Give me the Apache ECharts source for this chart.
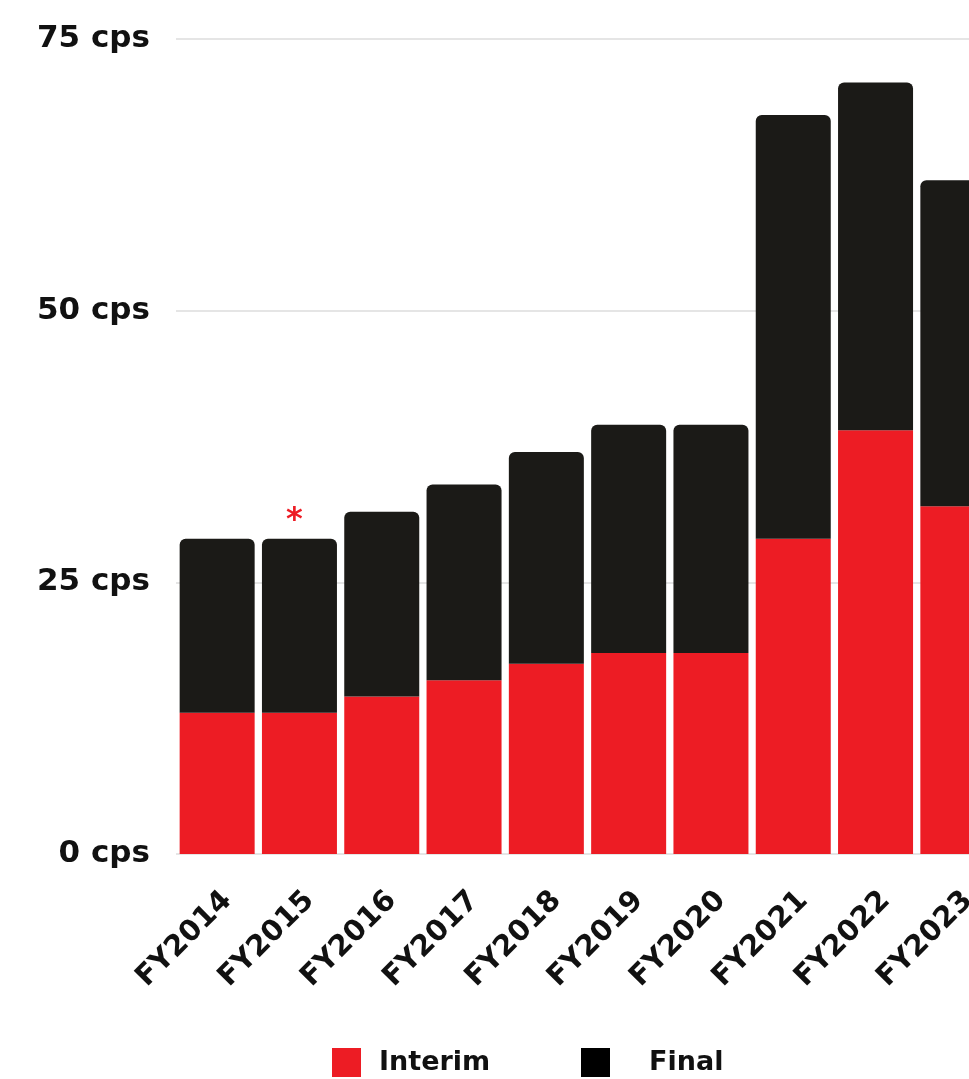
<!DOCTYPE html>
<html>
<head>
<meta charset="utf-8">
<script src="https://cdn.jsdelivr.net/npm/echarts@6/dist/echarts.min.js"></script>
<style>
  html, body { margin: 0; padding: 0; background: #fff; }
  #chart { width: 969px; height: 1079px; }
</style>
</head>
<body>
<div id="chart"></div>
<script>
// 每年股息（cps）
const years = ['FY2014', 'FY2015', 'FY2016', 'FY2017', 'FY2018', 'FY2019', 'FY2020', 'FY2021', 'FY2022', 'FY2023']
const interim = [13, 13, 14.5, 16, 17.5, 18.5, 18.5, 29, 39, 32]
const final = [16, 16, 17, 18, 19.5, 21, 21, 39, 32, 30]
const notes = ['', '*', '', '', '', '', '', '', '', '']
const yTicks = [0, 25, 50, 75]

const RED = '#ED1C24'
const BLACK = '#1B1A17'
const FONT = 'DejaVu Sans'

const finalData = final.map((v, i) => {
  if (!notes[i]) return v
  return {
    value: v,
    label: {
      show: true,
      position: 'top',
      distance: 2,
      offset: [-5, 0],
      formatter: notes[i],
      color: RED,
      fontSize: 32,
      fontWeight: 'bold',
      fontFamily: FONT
    }
  }
})

const myChart = echarts.init(document.getElementById('chart'))
myChart.setOption({
  animation: false,
  grid: {
    left: 176,
    width: 823,
    top: 39,
    bottom: 225,
    outerBoundsMode: 'none'
  },
  legend: [
    {
      data: [{ name: 'Interim', itemStyle: { color: RED } }],
      left: 327,
      top: 1043,
      itemWidth: 29,
      itemHeight: 29,
      icon: 'rect',
      textStyle: { fontSize: 27, fontWeight: 'bold', fontFamily: FONT, color: '#111', padding: [0, 0, 0, 13] }
    },
    {
      data: [{ name: 'Final', itemStyle: { color: '#000' } }],
      left: 576,
      top: 1043,
      itemWidth: 29,
      itemHeight: 29,
      icon: 'rect',
      textStyle: { fontSize: 27, fontWeight: 'bold', fontFamily: FONT, color: '#111', padding: [0, 0, 0, 34] }
    }
  ],
  xAxis: {
    type: 'category',
    data: years,
    axisLine: { show: false },
    axisTick: { show: false },
    axisLabel: {
      rotate: 45,
      interval: 0,
      margin: 32,
      verticalAlign: 'top',
      color: '#111',
      fontSize: 29,
      fontWeight: 'bold',
      fontFamily: FONT
    }
  },
  yAxis: {
    type: 'value',
    min: yTicks[0],
    max: yTicks[yTicks.length - 1],
    interval: 25,
    axisLine: { show: false },
    axisTick: { show: false },
    splitLine: { lineStyle: { color: '#dcdcdc', width: 1.5 } },
    axisLabel: {
      margin: 26,
      color: '#111',
      fontSize: 31,
      fontWeight: 'bold',
      fontFamily: FONT,
      formatter: '{value} cps'
    }
  },
  series: [
    {
      name: 'Interim',
      type: 'bar',
      stack: 'div',
      barWidth: 75,
      data: interim,
      itemStyle: { color: RED }
    },
    {
      name: 'Final',
      type: 'bar',
      stack: 'div',
      barWidth: 75,
      data: finalData,
      itemStyle: { color: BLACK, borderRadius: [6, 6, 0, 0] }
    }
  ]
})
</script>
</body>
</html>
